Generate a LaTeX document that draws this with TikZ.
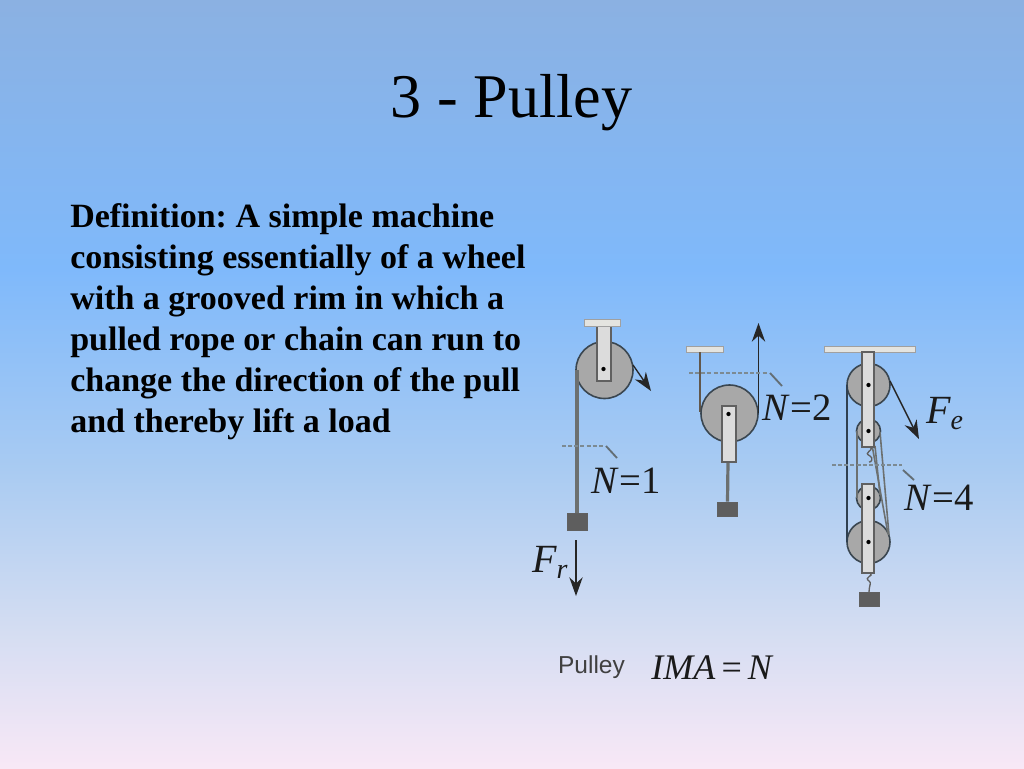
\documentclass[tikz,border=0pt]{standalone}
\usepackage{fontspec}
\setmainfont{Liberation Serif}
\newfontfamily\lsans{Liberation Sans}
\usetikzlibrary{arrows.meta}
\frenchspacing
\definecolor{bgA}{HTML}{8BB1E2}
\definecolor{bgB}{HTML}{7FB9FB}
\definecolor{bgC}{HTML}{A9CBF2}
\definecolor{bgD}{HTML}{D4DDF2}
\definecolor{bgE}{HTML}{F8E8F6}
\definecolor{wheelfill}{HTML}{A8A8A8}
\definecolor{wheeledge}{HTML}{3A4650}
\definecolor{bracketfill}{HTML}{DCDCDC}
\definecolor{bracketedge}{HTML}{606060}
\definecolor{platefill}{HTML}{E4E4E0}
\definecolor{boxfill}{HTML}{5E5E5E}
\definecolor{ropegray}{HTML}{6C7070}
\definecolor{ropedark}{HTML}{304050}
\definecolor{dashcol}{HTML}{7C8A92}
\definecolor{inktext}{HTML}{1A1A1A}
\tikzset{
  x=0.75pt,y=-0.75pt,
  wheel/.style={circle,draw=wheeledge,line width=1.2pt,fill=wheelfill,inner sep=0pt,minimum size=#1*0.75pt},
  bracket/.style={draw=bracketedge,line width=1pt,fill=bracketfill},
  plate/.style={draw=bracketedge!60,line width=.6pt,fill=platefill},
  weight/.style={draw=bracketedge,line width=.8pt,fill=boxfill},
  pin/.style={circle,fill=black,inner sep=0pt,minimum size=3.2pt},
  ropeg/.style={draw=ropegray,line width=2.4pt},
  roped/.style={draw=ropedark,line width=1.1pt},
  force/.style={draw=black!85,line width=1.1pt,-{Stealth[length=14pt,width=10pt]}},
  cutline/.style={draw=dashcol,line width=1.2pt,dash pattern=on 3pt off 1.6pt},
  tick/.style={draw=dashcol!80!black,line width=1.4pt},
  nlabel/.style={text=inktext,font=\fontsize{29}{32}\selectfont,inner sep=0pt},
  body/.style={text=black,font=\fontsize{25.5}{30.8}\selectfont\bfseries,align=left,inner sep=0pt,anchor=north west},
}
\begin{document}
\begin{tikzpicture}
\useasboundingbox (0,0) rectangle (1024,768);
\fill[top color=bgA,bottom color=bgB,draw=none] (0,0) rectangle (1024,270);
\fill[top color=bgB,bottom color=bgC,draw=none] (0,269) rectangle (1024,470);
\fill[top color=bgC,bottom color=bgD,draw=none] (0,469) rectangle (1024,630);
\fill[top color=bgD,bottom color=bgE,draw=none] (0,629) rectangle (1024,768);

\node[inner sep=0pt,font=\fontsize{46.6}{52}\selectfont,text=black] (title) at (511.5,103) {3 - Pulley};
\node[body] (definition) at (70,203) {Definition: A simple machine\\consisting essentially of a wheel\\with a grooved rim in which a\\pulled rope or chain can run to\\change the direction of the pull\\and thereby lift a load};

% --- N=1
\node[wheel=57] (w1) at (604.5,370) {};
\coordinate (w1l) at (577,370);
\node[weight,minimum width=15.5pt,minimum height=13pt,inner sep=0pt] (load1) at (577.5,522) {};
\draw[ropeg] (w1l) -- (load1.north -| w1l);
\path[bracket] (597,326) rectangle (611,381);
\path[plate] (584,319) rectangle (620,326);
\node[pin] (p1) at (603.5,369) {};
\coordinate (r1a) at (633,365);
\coordinate (r1b) at (651,391);
\draw[force,line width=1pt] (r1a) -- (r1b);
\coordinate (c1a) at (562,446); \coordinate (c1b) at (604,446);
\coordinate (t1a) at (606,446); \coordinate (t1b) at (617,458);
\draw[cutline] (c1a) -- (c1b);
\draw[tick] (t1a) -- (t1b);
\node[nlabel] (n1) at (626,481) {\textit{N}=1};
\coordinate (f1a) at (576,540); \coordinate (f1b) at (576,596);
\draw[force] (f1a) -- (f1b);
\node[nlabel,font=\fontsize{30}{32}\selectfont\itshape,anchor=base west] (fr) at (532,572) {F\raisebox{-5pt}{\fontsize{21}{24}\selectfont r}};

% --- N=2
\path[plate] (686,346) rectangle (723,352);
\coordinate (r2a) at (700,352); \coordinate (r2b) at (700,412);
\draw[draw=wheeledge!70!brown,line width=1.1pt] (r2a) -- (r2b);
\node[wheel=57] (w2) at (729.5,413.5) {};
\node[weight,minimum width=15.5pt,minimum height=11pt,inner sep=0pt] (load2) at (727.5,509.5) {};
\coordinate (r2c) at (728,462);
\draw[ropeg] (r2c) -- (load2.north);
\path[bracket] (722,406) rectangle (736,462);
\node[pin] (p2) at (728.5,414) {};
\coordinate (f2a) at (758.5,413); \coordinate (f2b) at (758.5,323);
\draw[force] (f2a) -- (f2b);
\coordinate (c2a) at (689,373); \coordinate (c2b) at (768,373);
\coordinate (t2a) at (770,373); \coordinate (t2b) at (782,386);
\draw[cutline] (c2a) -- (c2b);
\draw[tick] (t2a) -- (t2b);
\node[nlabel] (n2) at (797,408) {\textit{N}=2};

% --- N=4
\coordinate (hs) at (847,385); \coordinate (he) at (847,542);
\node[wheel=43] (w3) at (868.5,385) {};
\node[wheel=43] (w6) at (868.5,542) {};
\node[wheel=24] (w4) at (868.5,431) {};
\node[wheel=24] (w5) at (868.5,498) {};
\draw[roped] (hs) -- (he);
\coordinate (r3a) at (857,431); \coordinate (r3b) at (857,498);
\draw[ropeg,line width=1.5pt] (r3a) -- (r3b);
\coordinate (r3c) at (880,432); \coordinate (r3d) at (889,535);
\draw[ropeg,line width=1.2pt] (r3c) -- (r3d);
\coordinate (r3e) at (872,445); \coordinate (r3f) at (888,534);
\draw[ropeg,line width=1.2pt] (r3e) -- (r3f);
\coordinate (r3g) at (875,446); \coordinate (r3h) at (880,495);
\draw[ropeg,line width=1.2pt] (r3g) -- (r3h);
\path[plate] (824,346) rectangle (915,352);
\path[bracket] (862,352) rectangle (874,447);
\path[bracket] (862,484) rectangle (874,573);
\node[pin] at (868.5,385) {};
\node[pin] at (868.5,431) {};
\node[pin] at (868.5,498) {};
\node[pin] at (868.5,542) {};
\coordinate (h1a) at (870,447); \coordinate (h1b) at (869,462);
\draw[draw=bracketedge,line width=1pt] (h1a) .. controls (875,451) and (862,452) .. (870,456) .. controls (874,458) and (871,463) .. (h1b);
\node[weight,minimum width=15.5pt,minimum height=11pt,inner sep=0pt] (load3) at (869.5,599.5) {};
\coordinate (h2a) at (870,573); \coordinate (h2b) at (869,592);
\draw[draw=bracketedge,line width=1pt] (h2a) .. controls (875,576) and (863,577) .. (869,581) .. controls (872,583) and (869,585) .. (h2b);
\coordinate (f3a) at (890,381); \coordinate (f3b) at (919,439);
\draw[force] (f3a) -- (f3b);
\coordinate (c3a) at (832,465); \coordinate (c3b) at (902,465);
\coordinate (t3a) at (903,470); \coordinate (t3b) at (914,480);
\draw[cutline] (c3a) -- (c3b);
\draw[tick] (t3a) -- (t3b);
\node[nlabel] (n4) at (939,498) {\textit{N}=4};
\node[nlabel,font=\fontsize{30}{32}\selectfont\itshape,anchor=base west] (fe) at (926,423) {F\raisebox{-5pt}{\fontsize{21}{24}\selectfont e}};

% --- caption
\node[inner sep=0pt,font=\fontsize{18.4}{22}\selectfont\lsans,text=black!75] (cap) at (591.5,667) {Pulley};
\node[inner sep=0pt,font=\fontsize{27}{30}\selectfont,text=inktext] (ima) at (712.5,668) {\textit{IMA}\,=\,\textit{N}};
\end{tikzpicture}
\end{document}
